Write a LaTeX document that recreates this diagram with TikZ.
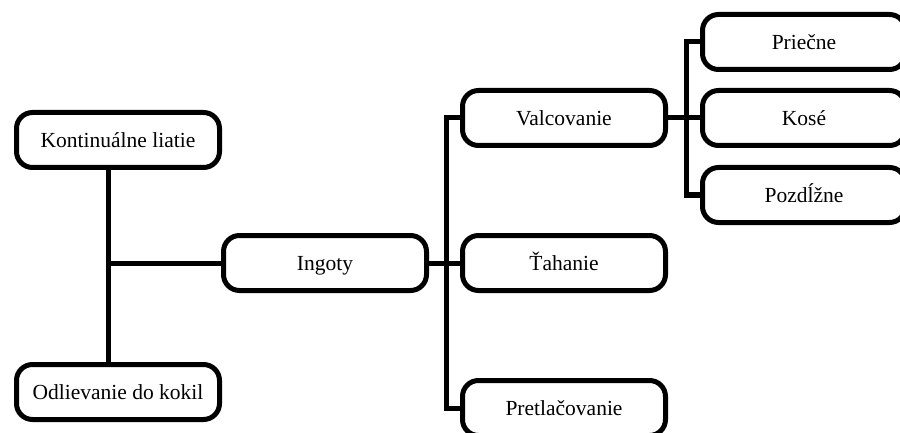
\documentclass[tikz,border=0pt]{standalone}
\usepackage{fontspec}
\setmainfont{Liberation Serif}
\usepackage{tikz}

\begin{document}
\begin{tikzpicture}[x=1pt, y=-1pt, line width=5pt,
  box/.style={draw, rounded corners=16pt, minimum width=203pt,
    minimum height=55pt, text height=17pt, text depth=2pt,
    font=\fontsize{21.5}{25}\selectfont},
  conn/.style={line join=miter}]
  \clip (0,0) rectangle (900,433);
  % left part
  \node [box] (kont) at (118,140) {Kontinuálne liatie};
  \node [box] (odl) at (118,392) {Odlievanie do kokil};
  \node [box] (ingoty) at (325,263) {Ingoty};
  % middle part
  \node [box] (valc) at (564,118) {Valcovanie};
  \node [box] (tah) at (564,263) {Ťahanie};
  \node [box] (pret) at (564,408) {Pretlačovanie};
  % right part
  \node [box] (pric) at (804,42) {Priečne};
  \node [box] (kose) at (804,118) {Kosé};
  \node [box] (pozd) at (804,195) {Pozdĺžne};
  \coordinate (jl) at (108,263);
  \coordinate (jm) at (446,263);
  \coordinate (jr) at (686,118);
  \draw [conn] (kont.south -| jl) -- (odl.north -| jl);
  \draw [conn] (jl) -- (ingoty.west);
  \draw [conn] (ingoty.east) -- (tah.west);
  \draw [conn] (valc.west) -| (jm) |- (pret.west);
  \draw [conn] (valc.east) -- (kose.west);
  \draw [conn] (pric.west) -| (jr) |- (pozd.west);
\end{tikzpicture}
\end{document}
